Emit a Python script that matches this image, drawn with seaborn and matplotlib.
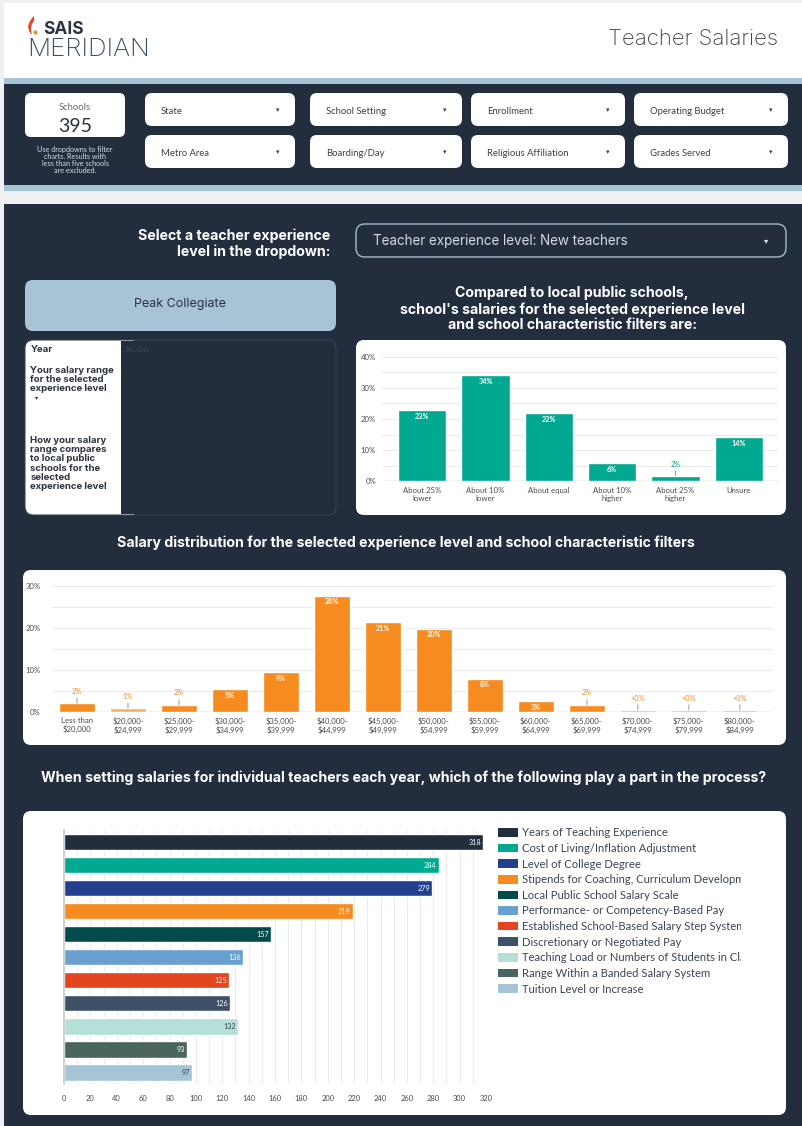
import matplotlib
matplotlib.use("Agg")
import matplotlib.pyplot as plt
import seaborn as sns
import pandas as pd
from matplotlib.patches import FancyBboxPatch, Rectangle, Patch, Polygon, Circle
from matplotlib.ticker import MultipleLocator, FuncFormatter

# ---- data ----
filters_row1 = ["State", "School Setting", "Enrollment", "Operating Budget"]
filters_row2 = ["Metro Area", "Boarding/Day", "Religious Affiliation", "Grades Served"]
school_count = 395

compare_labels = ["About 25%\nlower", "About 10%\nlower", "About equal",
                  "About 10%\nhigher", "About 25%\nhigher", "Unsure"]
compare_pct = [22.8, 34.1, 21.8, 5.8, 1.7, 14.2]
compare_text = ["23%", "34%", "22%", "6%", "2%", "14%"]

salary_bins = ["Less than\n$20,000", "$20,000-\n$24,999", "$25,000-\n$29,999",
               "$30,000-\n$34,999", "$35,000-\n$39,999", "$40,000-\n$44,999",
               "$45,000-\n$49,999", "$50,000-\n$54,999", "$55,000-\n$59,999",
               "$60,000-\n$64,999", "$65,000-\n$69,999", "$70,000-\n$74,999",
               "$75,000-\n$79,999", "$80,000-\n$84,999"]
salary_pct = [2.0, 0.8, 1.6, 5.3, 9.4, 27.6, 21.3, 19.8, 7.9, 2.5, 1.6, 0.4, 0.4, 0.4]
salary_text = ["2%", "1%", "2%", "5%", "9%", "28%", "21%", "20%", "8%", "3%", "2%",
               "+0%", "+0%", "+0%"]

factor_labels = ["Years of Teaching Experience", "Cost of Living/Inflation Adjustment",
                 "Level of College Degree",
                 "Stipends for Coaching, Curriculum Development",
                 "Local Public School Salary Scale", "Performance- or Competency-Based Pay",
                 "Established School-Based Salary Step System",
                 "Discretionary or Negotiated Pay",
                 "Teaching Load or Numbers of Students in Class",
                 "Range Within a Banded Salary System", "Tuition Level or Increase"]
factor_counts = [318, 284, 279, 219, 157, 136, 125, 126, 132, 93, 97]
factor_colors = ["#222e3e", "#00a98f", "#23408e", "#f68b1f", "#024b4c", "#6aa0d0",
                 "#e3451f", "#3e5166", "#b5e0d8", "#4a6460", "#a5c4d6"]

NAVY = "#222e3e"
STRIP = "#a6c4d6"
TEAL = "#00a98f"
ORANGE = "#f68b1f"
GRID = "#ebebeb"
TICK = "#4a4a4a"
HEAD = ["Inter", "DejaVu Sans"]
TITLE_SIZE = 10.2

sns.set_theme(style="white")
plt.rcParams["font.family"] = ["Lato", "DejaVu Sans"]

W, H = 802, 1126
fig = plt.figure(figsize=(W / 100, H / 100), dpi=100, facecolor="#eef0f1")
bg = fig.add_axes([0, 0, 1, 1])
bg.set_xlim(0, W)
bg.set_ylim(H, 0)
bg.axis("off")


def px_axes(x0, y0, x1, y1):
    return fig.add_axes([x0 / W, 1 - y1 / H, (x1 - x0) / W, (y1 - y0) / H])


def box(x0, y0, x1, y1, fc, ec="none", r=0, lw=1.0, z=1):
    if r:
        p = FancyBboxPatch((x0, y0), x1 - x0, y1 - y0,
                           boxstyle=f"round,pad=0,rounding_size={r}",
                           fc=fc, ec=ec, lw=lw, zorder=z)
    else:
        p = Rectangle((x0, y0), x1 - x0, y1 - y0, fc=fc, ec=ec, lw=lw, zorder=z)
    bg.add_patch(p)


# ---- page background ----
box(4, 3, W, 78, "white")
box(4, 78, W, 84, STRIP)
box(4, 84, W, 185, NAVY)
box(4, 185, W, 191, STRIP)
box(4, 204, W, H, NAVY)

# logo + page title
bg.add_patch(Polygon([(33.5, 16), (30, 21), (28, 26), (29, 31), (32, 35), (31, 29.5),
                      (31.8, 24.5), (34.5, 19.5)],
                     closed=True, fc="#e8452a", ec="none", zorder=3))
bg.add_patch(Circle((35.5, 32.5), 2.1, fc="#f7941d", ec="none", zorder=3))
bg.text(43.5, 29, "SAIS", fontsize=12.5, fontweight="bold", color="#2b3440",
        va="center", ha="left", family=HEAD)
bg.text(27.5, 49, "MERIDIAN", fontsize=18.5, fontweight="light", color="#3a4e5e",
        va="center", ha="left", family=HEAD)
bg.text(778, 39, "Teacher Salaries", fontsize=16, fontweight="light", color="#3a4553",
        va="center", ha="right", family=HEAD)

# schools counter
box(25, 93, 125, 137, "white", r=6, z=2)
bg.text(75, 107.5, "Schools", fontsize=6.8, color="#6b6b6b", ha="center", va="center",
        zorder=3)
bg.text(75, 126.5, str(school_count), fontsize=14, color="#2b3440", ha="center",
        va="center", zorder=3)
bg.text(75, 160, "Use dropdowns to filter\ncharts. Results with\nless than five schools\nare excluded.",
        fontsize=5.2, color="#d8dde2", ha="center", va="center", linespacing=0.95, zorder=3)

# filter dropdowns
cols = [(145, 295), (310, 462), (471, 625), (634, 788)]
for row_y, names in [(93, filters_row1), (135, filters_row2)]:
    for (x0, x1), name in zip(cols, names):
        box(x0, row_y, x1, row_y + 33, "white", r=7, z=2)
        bg.text(x0 + 16, row_y + 18.5, name, fontsize=6.8, color="#3c4043",
                ha="left", va="center", zorder=3)
        bg.text(x1 - 17, row_y + 17, "\u25be", fontsize=5, color="#3c4043",
                ha="center", va="center", family="DejaVu Sans", zorder=3)

# experience selector
bg.text(330, 244, "Select a teacher experience\nlevel in the dropdown:", fontsize=TITLE_SIZE,
        fontweight="bold", color="white", ha="right", va="center", linespacing=1.15,
        family=HEAD)
box(356, 224, 786, 257, "none", ec="#a8bccb", r=9, lw=1.0, z=2)
bg.text(373, 241.5, "Teacher experience level: New teachers", fontsize=9.7, color="#d5dbe1",
        ha="left", va="center", family=HEAD)
bg.text(766, 241, "\u25be", fontsize=6, color="#e0e4e8", ha="center", va="center",
        family="DejaVu Sans")

# school name + table
box(25, 280, 336, 331, STRIP, r=8, z=2)
bg.text(180, 304.5, "Peak Collegiate", fontsize=9, color="#2c3440", ha="center",
        va="center", zorder=3, family=HEAD)
box(25, 340, 336, 515, NAVY, ec="#34404f", r=8, lw=0.8, z=2)
box(25.5, 340.5, 140, 514.5, "white", r=8, z=3)
box(121, 340.8, 145, 514.2, NAVY, z=4)
bg.text(30.5, 350, "Year", fontsize=6.9, fontweight="bold", color="#2b3440",
        ha="left", va="center", zorder=5, family=HEAD)
bg.text(30.5, 366, "Your salary range\nfor the selected\nexperience level", fontsize=6.9,
        fontweight="bold", color="#2b3440", ha="left", va="top", linespacing=1.03,
        zorder=5, family=HEAD)
bg.text(37, 397.5, "\u25be", fontsize=4.5, color="#2b3440", ha="center", va="center",
        family="DejaVu Sans", zorder=5)
bg.text(30.5, 436, "How your salary\nrange compares\nto local public\nschools for the\nselected\nexperience level",
        fontsize=6.9, fontweight="bold", color="#2b3440", ha="left", va="top",
        linespacing=1.03, zorder=5, family=HEAD)
bg.text(126, 349, "No data", fontsize=4.8, color="#3c4858", ha="left", va="center", zorder=5)

# section titles
bg.text(572, 309, "Compared to local public schools,\nschool's salaries for the selected experience level\nand school characteristic filters are:",
        fontsize=TITLE_SIZE, fontweight="bold", color="white", ha="center", va="center",
        linespacing=1.15, family=HEAD)
bg.text(406, 543, "Salary distribution for the selected experience level and school characteristic filters",
        fontsize=TITLE_SIZE, fontweight="bold", color="white", ha="center", va="center",
        family=HEAD)
bg.text(404, 778, "When setting salaries for individual teachers each year, which of the following play a part in the process?",
        fontsize=TITLE_SIZE, fontweight="bold", color="white", ha="center", va="center",
        family=HEAD)

# chart cards
box(356, 340, 786, 515, "white", r=8, z=2)
box(23, 570, 786, 745, "white", r=8, z=2)
box(23, 811, 786, 1115, "white", r=8, z=2)


def style_pct_axis(ax, top):
    ax.set_ylim(0, top)
    ax.yaxis.set_major_locator(MultipleLocator(10))
    ax.yaxis.set_minor_locator(MultipleLocator(5))
    ax.yaxis.set_major_formatter(FuncFormatter(lambda v, _: f"{v:.0f}%"))
    ax.grid(axis="y", which="both", color=GRID, lw=0.8)
    ax.set_axisbelow(True)
    ax.axhline(0, color="#cfcfcf", lw=1, zorder=0.8)
    for s in ax.spines.values():
        s.set_visible(False)
    ax.set_xlabel("")
    ax.set_ylabel("")
    ax.set_facecolor("none")


def label_bars(ax, values, texts, color, pad_out=12):
    for i, (v, t) in enumerate(zip(values, texts)):
        if v < 2.3:
            ax.annotate(t, (i, v), xytext=(0, pad_out), textcoords="offset pixels",
                        ha="center", va="center", fontsize=5.2, color=color,
                        arrowprops=dict(arrowstyle="-", color="#9a9a9a", lw=0.7,
                                        shrinkA=4, shrinkB=0))
        else:
            ax.annotate(t, (i, v), xytext=(0, -6), textcoords="offset pixels",
                        ha="center", va="center", fontsize=5.2, color="white",
                        fontweight="bold")


# ---- chart 1: comparison to local public schools ----
ax1 = px_axes(383, 356.7, 778, 481.3)
cmp_df = pd.DataFrame({"answer": compare_labels, "pct": compare_pct})
sns.barplot(data=cmp_df, x="answer", y="pct", color=TEAL, saturation=1, width=0.76, ax=ax1)
style_pct_axis(ax1, 40)
ax1.set_xlim(-0.62, 5.62)
ax1.tick_params(axis="both", length=0, labelsize=5.6, labelcolor=TICK)
ax1.tick_params(axis="y", pad=5)
ax1.tick_params(axis="x", pad=4)
label_bars(ax1, compare_pct, compare_text, TEAL)

# ---- chart 2: salary distribution ----
ax2 = px_axes(51.5, 585.7, 773, 711.7)
sal_df = pd.DataFrame({"bin": salary_bins, "pct": salary_pct})
sal_colors = [ORANGE if v >= 1 else "#f8ad6c" for v in salary_pct]
sns.barplot(data=sal_df, x="bin", y="pct", hue="bin", palette=sal_colors, saturation=1,
            width=0.71, legend=False, ax=ax2)
style_pct_axis(ax2, 30)
ax2.set_xlim(-0.5, 13.65)
ax2.tick_params(axis="both", length=0, labelsize=5.6, labelcolor=TICK)
ax2.tick_params(axis="y", pad=8)
ax2.tick_params(axis="x", pad=4)
label_bars(ax2, salary_pct, salary_text, ORANGE)

# ---- chart 3: factors in setting salaries ----
ax3 = px_axes(64, 830.5, 486, 1083.8)
fac_df = pd.DataFrame({"factor": factor_labels, "count": factor_counts})
sns.barplot(data=fac_df, x="count", y="factor", hue="factor", palette=factor_colors,
            saturation=1, width=0.72, legend=False, orient="h", ax=ax3)
ax3.set_xlim(0, 320)
ax3.set_ylim(10.5, -0.5)
ax3.xaxis.set_major_locator(MultipleLocator(20))
ax3.xaxis.set_minor_locator(MultipleLocator(10))
ax3.grid(axis="x", which="both", color=GRID, lw=0.8)
ax3.set_axisbelow(True)
ax3.set_yticks([])
ax3.set_xlabel("")
ax3.set_ylabel("")
ax3.set_facecolor("none")
for name, s in ax3.spines.items():
    s.set_visible(name == "left")
ax3.spines["left"].set_color("#cccccc")
ax3.tick_params(axis="x", length=0, labelsize=5.4, labelcolor=TICK, pad=8)
light = {"#b5e0d8", "#a5c4d6"}
for i, (v, c) in enumerate(zip(factor_counts, factor_colors)):
    ax3.annotate(str(v), (v, i), xytext=(-2, 0), textcoords="offset pixels",
                 ha="right", va="center", fontsize=5.2,
                 color="#3a4553" if c in light else "white")

handles = [Patch(facecolor=c, edgecolor="none", label=l)
           for l, c in zip(factor_labels, factor_colors)]
leg = fig.legend(handles=handles, loc="upper left", bbox_to_anchor=(498 / W, 1 - 827.4 / H),
                 frameon=False, fontsize=8.1, handlelength=1.78, handleheight=0.8,
                 handletextpad=0.36, labelspacing=0.41, borderpad=0, borderaxespad=0,
                 labelcolor="#3a4553")
# the legend column is cut off at the card's inner edge, as in the dashboard
fig.add_artist(Rectangle((741 / W, 1 - 1005 / H), 38 / W, 185 / H, transform=fig.transFigure,
                         fc="white", ec="none", zorder=10))

fig.savefig("out.png", dpi=100, facecolor=fig.get_facecolor())
